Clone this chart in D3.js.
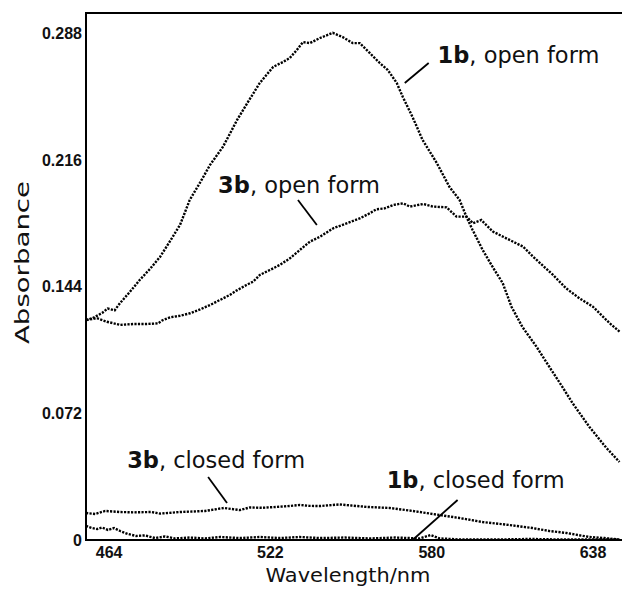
<!DOCTYPE html>
<html>
<head>
<meta charset="utf-8">
<script src="https://cdn.jsdelivr.net/npm/d3@7"></script>
<style>
  body { margin: 0; background: #fff; }
  svg { display: block; }
  .tick-label { font-family: "Liberation Sans", Arial, sans-serif; font-weight: bold; font-size: 16px; fill: #111; }
  .axis-title { font-family: "DejaVu Sans", sans-serif; font-size: 20px; fill: #111; }
  .note { font-family: "DejaVu Sans", sans-serif; font-size: 22.5px; fill: #111; }
  .curve { fill: none; stroke: #000; stroke-width: 2.4; stroke-dasharray: 2.2 1.3; }
</style>
</head>
<body>
<div id="chart"></div>
<script>
// --- Data (wavelength in nm, absorbance) ---
const xTicks = [464, 522, 580, 638];
const yTicks = [0, 0.072, 0.144, 0.216, 0.288];

const open1bNm = [455.7, 458, 461.5, 463.5, 466, 468, 471.5, 475, 478.7, 482.3, 486, 489.5, 493, 496.7, 500.3, 504.9, 507.5, 510, 514, 518.2, 523, 526.6, 529, 531.5, 533.7, 536.2, 539.8, 544.4, 548, 551.6, 554.1, 557.7, 561.3, 564.2, 567.4, 569.6, 573.1, 576.7, 581.8, 586.4, 590, 592.5, 594.7, 598.3, 601.9, 605.5, 608.7, 612.6, 617.7, 622.3, 627, 630.6, 636.7, 642.8, 647.5];
const open1bAbs = [0.125, 0.126, 0.129, 0.1315, 0.1305, 0.1347, 0.141, 0.1477, 0.154, 0.1608, 0.170, 0.179, 0.1932, 0.203, 0.2131, 0.2233, 0.231, 0.2386, 0.249, 0.2597, 0.2688, 0.2716, 0.2739, 0.2784, 0.2829, 0.2823, 0.2852, 0.2881, 0.2857, 0.2823, 0.2823, 0.2767, 0.271, 0.267, 0.2597, 0.2517, 0.2403, 0.2273, 0.2142, 0.2005, 0.1932, 0.1835, 0.1761, 0.1648, 0.1551, 0.146, 0.1324, 0.121, 0.1097, 0.0983, 0.0869, 0.0778, 0.0642, 0.0523, 0.0443];

const open3bNm = [455.9, 459.6, 463.2, 468, 472.7, 477.5, 481.7, 482.9, 485.9, 489.5, 493.1, 496.7, 500.3, 503.9, 507.4, 509.8, 513.4, 515.8, 518.2, 521.8, 525.4, 529, 532.6, 536.2, 539.8, 544.6, 549.4, 554.1, 557.7, 560.1, 563, 566.1, 569.7, 572.1, 576.9, 580.5, 585.3, 588.9, 592.5, 594.8, 597.8, 602, 606.8, 612.8, 616.4, 623.6, 628.3, 633.1, 637.9, 644, 647.5];
const open3bAbs = [0.125, 0.126, 0.124, 0.1222, 0.1227, 0.1227, 0.1231, 0.1246, 0.1265, 0.1274, 0.1288, 0.131, 0.1335, 0.1364, 0.1392, 0.1417, 0.1449, 0.1468, 0.1506, 0.1534, 0.1563, 0.16, 0.1648, 0.1695, 0.1723, 0.1771, 0.1799, 0.1827, 0.1856, 0.1879, 0.1884, 0.1903, 0.1913, 0.1894, 0.1909, 0.1894, 0.189, 0.1837, 0.1837, 0.18, 0.1818, 0.1752, 0.1714, 0.1667, 0.161, 0.1506, 0.143, 0.1373, 0.1326, 0.1231, 0.1184];

const closed3bNm = [455.7, 459, 462.6, 468, 473, 479.1, 482.3, 489.5, 498.5, 505.3, 511, 514.6, 519, 524.3, 528, 532.6, 536, 539.8, 546.9, 551, 556.6, 564.9, 573.1, 582.8, 590, 598.3, 608, 616.2, 622.3, 628.4, 636.7, 642.1, 647.5];
const closed3bAbs = [0.0153, 0.0148, 0.0165, 0.0159, 0.0157, 0.0159, 0.015, 0.0159, 0.0165, 0.0182, 0.017, 0.0185, 0.0183, 0.0188, 0.0192, 0.0199, 0.0194, 0.0193, 0.0202, 0.0196, 0.0188, 0.0182, 0.0165, 0.0142, 0.0125, 0.0102, 0.0085, 0.0068, 0.0051, 0.004, 0.0017, 0.0011, 0.0002];

const closed1bNm = [455.7, 457.9, 459.7, 461.5, 463.6, 465.8, 468, 470.8, 473.7, 476.9, 480.5, 484.1, 487.7, 493.1, 498.5, 503.9, 511, 518.2, 525.4, 532.6, 539.8, 548.8, 557.8, 566.7, 575.7, 579.6, 582.8, 590, 604.4, 615.2, 626, 647.5];
const closed1bAbs = [0.008, 0.0068, 0.0062, 0.0071, 0.0057, 0.0068, 0.0051, 0.0034, 0.0023, 0.0026, 0.0011, 0.002, 0.0009, 0.0014, 0.0009, 0.0017, 0.0011, 0.0017, 0.0011, 0.0017, 0.0011, 0.0014, 0.0009, 0.0014, 0.0009, 0.0028, 0.0009, 0.0003, 0.0003, 0.0006, 0.0003, 0.0003];

// annotation labels: bold compound id, rest, text anchor and leader line (data coords)
const noteIds = ["1b", "3b", "3b", "1b"];
const noteRest = [", open form", ", open form", ", closed form", ",  closed form"];
const noteAt = [[582.1, 0.271], [503.2, 0.1971], [470.5, 0.0409], [563.8, 0.0295]];
const noteLeader = [
  [[570.3, 0.2596], [578.9, 0.271]],
  [[531.9, 0.1932], [538.7, 0.179]],
  [[499.6, 0.0358], [506.4, 0.021]],
  [[589.3, 0.0227], [573.1, 0.0]]
];

// --- Setup ---
const width = 622, height = 590;
const margin = { top: 13, left: 86, bottom: 50 };

const x = d3.scaleLinear().domain([455.7, 648.4]).range([margin.left, width]);
const y = d3.scaleLinear().domain([0, 0.2994]).range([height - margin.bottom, margin.top]);

const svg = d3.select("#chart").append("svg")
  .attr("width", width)
  .attr("height", height);

// curves
const line = d3.line().x(d => x(d[0])).y(d => y(d[1]));
const series = [
  d3.zip(open1bNm, open1bAbs),
  d3.zip(open3bNm, open3bAbs),
  d3.zip(closed3bNm, closed3bAbs),
  d3.zip(closed1bNm, closed1bAbs)
];
svg.append("g").selectAll("path")
  .data(series)
  .enter().append("path")
  .attr("class", "curve")
  .attr("d", line);

// frame
const x0 = x.range()[0], y0 = y.range()[0], yTop = y.range()[1];
svg.append("path")
  .attr("d", `M${width + 10},${yTop}H${x0}V${y0}H${width + 10}`)
  .attr("fill", "none")
  .attr("stroke", "#000")
  .attr("stroke-width", 2);

// tick labels
svg.append("g").selectAll("text")
  .data(yTicks)
  .enter().append("text")
  .attr("class", "tick-label")
  .attr("x", x0 - 4)
  .attr("y", d => y(d))
  .attr("dy", "0.36em")
  .attr("text-anchor", "end")
  .text(d => d === 0 ? "0" : d3.format(".3f")(d));

svg.append("g").selectAll("text")
  .data(xTicks)
  .enter().append("text")
  .attr("class", "tick-label")
  .attr("x", d => x(d))
  .attr("y", y0 + 18)
  .attr("text-anchor", "middle")
  .text(d => d);

// axis titles
svg.append("text")
  .attr("class", "axis-title")
  .attr("transform", `translate(29,${(yTop + y0) / 2 - 14}) rotate(-90)`)
  .attr("text-anchor", "middle")
  .attr("textLength", 163)
  .attr("lengthAdjust", "spacingAndGlyphs")
  .text("Absorbance");

svg.append("text")
  .attr("class", "axis-title")
  .attr("x", 348)
  .attr("y", y0 + 42)
  .attr("text-anchor", "middle")
  .attr("textLength", 165)
  .attr("lengthAdjust", "spacingAndGlyphs")
  .text("Wavelength/nm");

// annotations
noteIds.forEach((id, i) => {
  const t = svg.append("text")
    .attr("class", "note")
    .attr("x", x(noteAt[i][0]))
    .attr("y", y(noteAt[i][1]));
  t.append("tspan").attr("font-weight", "bold").text(id);
  t.append("tspan").text(noteRest[i]);

  const seg = noteLeader[i];
  svg.append("line")
    .attr("x1", x(seg[0][0])).attr("y1", y(seg[0][1]))
    .attr("x2", x(seg[1][0])).attr("y2", y(seg[1][1]))
    .attr("stroke", "#000")
    .attr("stroke-width", 1.8);
});
</script>
</body>
</html>
